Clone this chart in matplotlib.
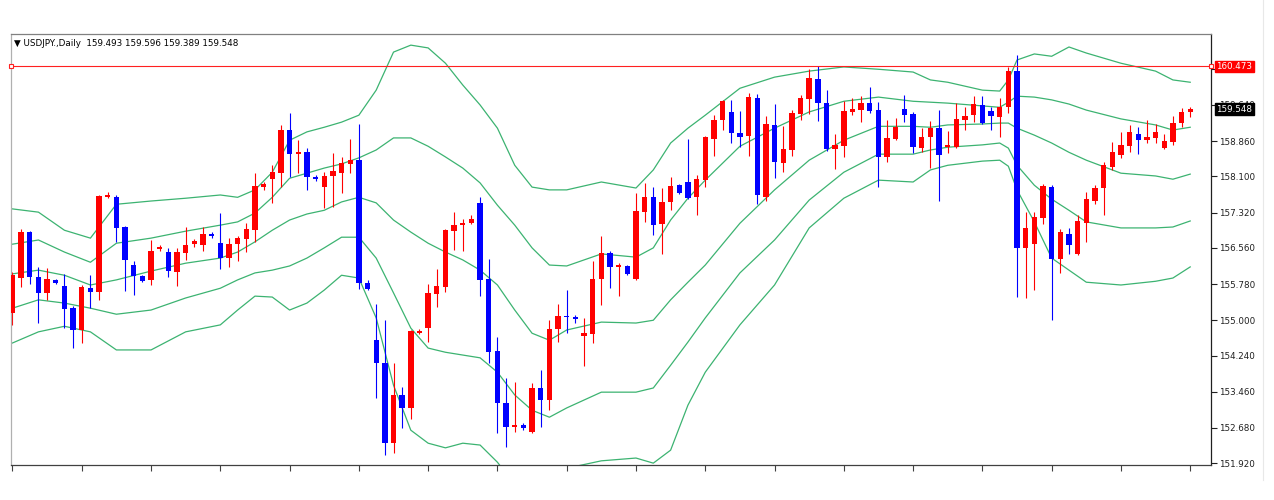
import matplotlib
matplotlib.use('Agg')
import numpy as np
from matplotlib import pyplot as plt
from matplotlib.lines import Line2D

# daily USDJPY bars, oldest first
opens = [
    155.16, 155.91, 156.90, 155.93, 155.59, 155.87, 155.74, 155.26, 154.79, 155.69,
    155.61, 157.65, 157.65, 157.01, 156.19, 155.95, 155.87, 156.53, 156.47, 156.04,
    156.45, 156.64, 156.62, 156.86, 156.66, 156.34, 156.64, 156.75, 156.94, 157.87,
    158.04, 158.17, 159.10, 158.58, 158.62, 158.09, 157.87, 158.11, 158.17, 158.37,
    158.45, 155.80, 154.57, 154.08, 152.35, 153.39, 153.11, 154.72, 154.83, 155.56,
    155.72, 156.92, 157.05, 157.09, 157.53, 155.89, 154.34, 153.22, 152.70, 152.74,
    152.59, 153.54, 153.28, 154.81, 155.09, 155.07, 154.66, 154.70, 155.89, 156.45,
    156.15, 156.17, 155.89, 157.33, 157.65, 157.07, 157.55, 157.91, 157.98, 157.65,
    158.02, 158.90, 159.31, 159.49, 159.03, 158.97, 159.79, 157.65, 159.21, 158.39,
    158.67, 159.44, 159.77, 160.20, 159.68, 158.69, 158.75, 159.49, 159.53, 159.68,
    159.53, 158.52, 158.90, 159.55, 159.44, 158.71, 158.95, 159.14, 158.73, 158.73,
    159.31, 159.42, 159.64, 159.51, 159.38, 159.59, 160.37, 156.56, 156.64, 157.20,
    157.87, 156.32, 156.86, 156.43, 157.09, 157.57, 157.85, 158.30, 158.56, 158.75,
    159.01, 158.88, 158.93, 158.71, 158.84, 159.25, 159.493,
]
highs = [
    156.04, 156.97, 156.92, 156.15, 156.12, 155.89, 156.00, 155.31, 155.76, 155.97,
    157.70, 157.76, 157.70, 157.03, 156.28, 155.97, 156.73, 156.62, 156.56, 156.56,
    157.01, 156.75, 157.01, 156.90, 157.31, 156.77, 156.81, 157.09, 158.17, 157.98,
    158.34, 159.21, 159.47, 158.88, 158.71, 158.13, 158.19, 158.60, 158.52, 158.90,
    159.23, 155.87, 155.35, 155.00, 154.08, 153.56, 154.79, 154.81, 155.78, 156.10,
    156.97, 157.33, 157.18, 157.27, 157.65, 156.32, 154.64, 153.75, 153.67, 152.78,
    153.65, 153.93, 155.00, 155.35, 155.65, 155.11, 155.05, 156.28, 156.81, 156.49,
    156.23, 156.19, 157.74, 157.96, 157.87, 157.85, 158.09, 157.94, 158.90, 158.13,
    158.97, 159.42, 159.75, 159.75, 159.51, 159.90, 159.87, 159.40, 159.66, 159.18,
    159.53, 159.85, 160.41, 160.48, 159.96, 159.01, 159.72, 159.79, 159.83, 160.03,
    159.70, 159.31, 159.36, 159.85, 159.49, 159.14, 159.29, 159.53, 159.08, 159.68,
    159.59, 159.83, 159.83, 159.59, 159.79, 160.46, 160.71, 157.33, 157.33, 157.94,
    157.91, 156.97, 156.99, 157.27, 157.76, 157.91, 158.41, 158.84, 159.06, 159.21,
    159.16, 159.31, 159.23, 159.01, 159.40, 159.57, 159.596,
]
lows = [
    154.90, 155.72, 155.78, 154.94, 155.44, 155.78, 154.83, 154.40, 154.51, 155.26,
    155.44, 157.63, 156.69, 155.63, 155.54, 155.82, 155.76, 156.49, 155.93, 155.74,
    156.30, 156.58, 156.49, 156.77, 156.10, 156.15, 156.28, 156.47, 156.69, 157.81,
    157.53, 157.87, 158.09, 158.17, 157.81, 158.00, 157.42, 157.44, 157.74, 158.17,
    155.67, 155.65, 153.32, 152.09, 152.14, 152.68, 152.87, 154.70, 154.53, 155.28,
    155.61, 156.51, 156.49, 157.07, 155.52, 154.08, 152.57, 152.27, 152.59, 152.63,
    152.57, 152.70, 153.06, 154.53, 154.72, 154.94, 154.01, 154.51, 155.33, 155.69,
    155.52, 155.97, 155.87, 157.12, 156.84, 156.43, 157.37, 157.72, 157.61, 157.27,
    157.87, 158.54, 159.10, 158.82, 158.73, 158.54, 157.50, 157.57, 158.06, 158.19,
    158.54, 159.31, 159.44, 159.29, 158.65, 158.26, 158.52, 159.42, 159.27, 159.47,
    157.87, 158.41, 158.88, 159.27, 158.60, 158.62, 158.28, 157.57, 158.60, 158.71,
    159.10, 159.27, 159.23, 159.10, 158.95, 159.46, 155.50, 155.48, 155.65, 157.07,
    155.00, 156.02, 156.43, 156.41, 156.69, 157.50, 157.27, 158.24, 158.50, 158.62,
    158.58, 158.82, 158.82, 158.69, 158.78, 159.16, 159.389,
]
closes = [
    155.97, 156.90, 155.93, 155.59, 155.89, 155.80, 155.24, 154.79, 155.72, 155.61,
    157.68, 157.70, 156.99, 156.30, 155.95, 155.84, 156.49, 156.58, 156.06, 156.47,
    156.62, 156.71, 156.86, 156.81, 156.34, 156.64, 156.77, 156.97, 157.89, 157.94,
    158.19, 159.10, 158.58, 158.62, 158.09, 158.04, 158.11, 158.22, 158.39, 158.45,
    155.80, 155.67, 154.08, 152.35, 153.39, 153.11, 154.77, 154.77, 155.59, 155.74,
    156.94, 157.05, 157.09, 157.18, 155.87, 154.31, 153.22, 152.70, 152.74, 152.68,
    153.54, 153.28, 154.81, 155.09, 155.07, 155.03, 154.72, 155.89, 156.45, 156.15,
    156.19, 156.00, 157.35, 157.65, 157.05, 157.55, 157.89, 157.74, 157.63, 158.04,
    158.95, 159.31, 159.72, 159.03, 158.95, 159.81, 157.70, 159.23, 158.41, 158.69,
    159.47, 159.79, 160.22, 159.68, 158.69, 158.78, 159.51, 159.55, 159.68, 159.51,
    158.52, 158.93, 159.16, 159.42, 158.73, 158.95, 159.14, 158.56, 158.78, 159.34,
    159.40, 159.66, 159.25, 159.40, 159.59, 160.37, 156.56, 156.99, 157.22, 157.89,
    156.32, 156.90, 156.62, 157.14, 157.61, 157.85, 158.34, 158.62, 158.78, 159.06,
    158.88, 158.95, 159.06, 158.86, 159.25, 159.49, 159.548,
]

# indicator lines, read at these bar numbers
band_idx = [
    0, 3, 6, 9, 12, 16, 20, 24, 26, 28, 30, 32, 34, 36, 38, 40, 42, 44, 46, 48,
    50, 52, 54, 56, 58, 60, 62, 64, 68, 72, 74, 76, 78, 80, 84, 88, 92, 96, 100,
    104, 106, 108, 112, 114, 115, 116, 118, 120, 122, 124, 128, 132, 134, 136,
]
outer_upper = [
    157.40, 157.33, 156.94, 156.77, 157.50, 157.57, 157.63, 157.70, 157.65, 157.81,
    158.19, 158.88, 159.06, 159.16, 159.27, 159.42, 159.96, 160.78, 160.93, 160.87,
    160.54, 160.07, 159.64, 159.14, 158.34, 157.87, 157.81, 157.81, 157.98, 157.85,
    158.24, 158.82, 159.14, 159.42, 160.00, 160.24, 160.37, 160.46, 160.41, 160.35,
    160.18, 160.13, 159.96, 159.94, 160.18, 160.61, 160.74, 160.69, 160.89, 160.76,
    160.54, 160.37, 160.18, 160.13,
]
inner_upper = [
    156.64, 156.73, 156.47, 156.25, 156.66, 156.77, 156.92, 157.05, 157.12, 157.31,
    157.65, 158.06, 158.17, 158.28, 158.37, 158.50, 158.67, 158.93, 158.93, 158.75,
    158.52, 158.28, 157.96, 157.48, 157.05, 156.56, 156.19, 156.17, 156.43, 156.36,
    156.56, 157.16, 157.63, 158.02, 158.75, 159.14, 159.49, 159.72, 159.81, 159.72,
    159.70, 159.68, 159.62, 159.59, 159.70, 159.83, 159.81, 159.75, 159.66, 159.53,
    159.34, 159.21, 159.10, 159.16,
]
middle = [
    156.00, 156.08, 155.97, 155.76, 155.87, 156.06, 156.23, 156.34, 156.47, 156.69,
    156.94, 157.16, 157.29, 157.37, 157.55, 157.65, 157.53, 157.16, 156.90, 156.66,
    156.47, 156.30, 156.08, 155.76, 155.22, 154.72, 154.57, 154.79, 154.96, 154.94,
    155.00, 155.44, 155.82, 156.19, 157.09, 157.81, 158.45, 158.88, 159.18, 159.18,
    159.16, 159.21, 159.23, 159.25, 159.25, 159.14, 158.99, 158.82, 158.62, 158.45,
    158.17, 158.11, 158.04, 158.15,
]
inner_lower = [
    155.26, 155.44, 155.37, 155.26, 155.13, 155.22, 155.48, 155.69, 155.87, 156.02,
    156.08, 156.17, 156.34, 156.56, 156.79, 156.79, 156.34, 155.59, 154.83, 154.40,
    154.31, 154.25, 154.19, 153.88, 153.39, 153.06, 152.91, 153.11, 153.45, 153.45,
    153.54, 154.03, 154.53, 155.05, 156.02, 156.73, 157.59, 158.19, 158.58, 158.58,
    158.67, 158.73, 158.78, 158.82, 158.71, 158.34, 157.91, 157.61, 157.37, 157.12,
    156.99, 156.99, 157.01, 157.14,
]
outer_lower = [
    154.51, 154.75, 154.87, 154.75, 154.36, 154.36, 154.75, 154.90, 155.22, 155.52,
    155.50, 155.22, 155.37, 155.65, 155.97, 155.91, 155.05, 153.60, 152.63, 152.35,
    152.25, 152.35, 152.31, 151.94, 151.45, 151.23, 151.34, 151.81, 151.97, 152.03,
    151.92, 152.20, 153.17, 153.88, 154.90, 155.76, 156.99, 157.63, 158.02, 157.98,
    158.24, 158.34, 158.43, 158.45, 158.32, 157.81, 157.12, 156.34, 156.08, 155.82,
    155.76, 155.84, 155.91, 156.15,
]

price_ticks = [151.920, 152.680, 153.460, 154.240, 155.000, 155.780, 156.560,
               157.320, 158.100, 158.860, 159.640, 160.420]
level_price = 160.473
title = '\u25bc USDJPY.,Daily  159.493 159.596 159.389 159.548'

UP_COLOR = '#ff0000'
DOWN_COLOR = '#0000ff'
BAND_COLOR = '#3cb371'

fig = plt.figure(figsize=(12.74, 5.0), dpi=100)
fig.patch.set_facecolor('white')
ax = fig.add_axes([11 / 1274, 35 / 500, 1200 / 1274, 431 / 500])
ax.set_xlim(-0.17, 138.4)
ax.set_ylim(151.88, 161.17)

o = np.array(opens)
h = np.array(highs)
l = np.array(lows)
c = np.array(closes)
x = np.arange(len(c))
colors = [UP_COLOR if cc > oo else DOWN_COLOR for oo, cc in zip(o, c)]

# bands
for band in [outer_upper, inner_upper, middle, inner_lower, outer_lower]:
    ax.plot(band_idx, band, color=BAND_COLOR, linewidth=0.9, zorder=1)

# candles
ax.vlines(x, l, h, colors=colors, linewidth=0.8, zorder=2)
ax.bar(x, np.maximum(np.abs(c - o), 0.025), bottom=np.minimum(o, c),
       width=0.62, color=colors, linewidth=0, zorder=3)

# horizontal level
ax.axhline(level_price, color='#ff2020', linewidth=0.8, zorder=4)
ax.plot([ax.get_xlim()[0], ax.get_xlim()[1]], [level_price, level_price],
        linestyle='none', marker='s', markersize=3.5, markerfacecolor='white',
        markeredgecolor='#ff2020', markeredgewidth=0.8, clip_on=False, zorder=5)

# axes styling
ax.yaxis.tick_right()
ax.set_yticks(price_ticks)
ax.set_yticklabels([f'{p:.3f}' for p in price_ticks])
ax.set_xticks(np.arange(0, len(c), 8))
ax.set_xticklabels([])
ax.tick_params(axis='y', direction='out', length=4, width=0.8, pad=2,
               labelsize=6.3, colors='#202020')
ax.tick_params(axis='x', direction='out', length=4, width=0.8, colors='#404040')
ax.spines['left'].set_color('#b0b0b0')
ax.spines['top'].set_color('#808080')
ax.spines['right'].set_color('#202020')
ax.spines['bottom'].set_color('#404040')
for s in ax.spines.values():
    s.set_linewidth(0.9)

# price labels on the scale
yt = ax.get_yaxis_transform()
ax.text(1.0045, level_price, f'{level_price:.3f}', transform=yt, fontsize=6.3,
        color='white', va='center', ha='left', clip_on=False, zorder=10,
        bbox=dict(boxstyle='square,pad=0.15', facecolor='#ff0000',
                  edgecolor='#ff0000'))
ax.text(1.0045, closes[-1], f'{closes[-1]:.3f}', transform=yt, fontsize=6.3,
        color='white', va='center', ha='left', clip_on=False, zorder=10,
        bbox=dict(boxstyle='square,pad=0.15', facecolor='black',
                  edgecolor='black'))

fig.text(14 / 1274, 1 - 43 / 500, title, fontsize=6.3, va='center', ha='left',
         color='black')

fig.add_artist(Line2D([1263 / 1274, 1263 / 1274], [0.04, 1.0],
                      color='#e8e8e8', linewidth=0.8))

fig.savefig('out.png', dpi=100)
